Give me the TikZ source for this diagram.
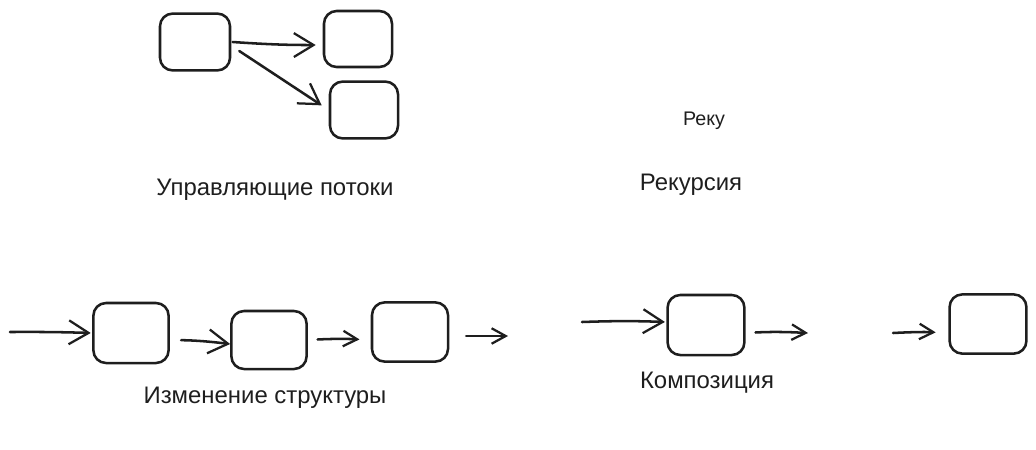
\documentclass[tikz,border=0pt]{standalone}
\usepackage{fontspec}
\setmainfont{Liberation Sans}
\usetikzlibrary{arrows.meta,positioning}
\definecolor{ink}{HTML}{1E1E1E}

\begin{document}
\begin{tikzpicture}[
    x=0.025cm, y=-0.025cm,
    every node/.style={font=\fontsize{17}{20}\selectfont, text=ink},
    box/.style={rectangle, draw=ink, line width=1.8pt, rounded corners=9pt,
                minimum width=#1, minimum height=1.45cm, inner sep=0pt},
    box/.default=1.85cm,
    arr/.style={-{Straight Barb[length=14pt, width=17pt, line width=1.6pt]},
                line width=1.8pt, draw=ink, line cap=round},
    shortarr/.style={arr, -{Straight Barb[length=10pt, width=11pt, line width=1.6pt]}},
    caption/.style={anchor=center},
    small/.style={font=\fontsize{14}{16}\selectfont},
]
\useasboundingbox (0,0) rectangle (1036,449);

% --- Control flow (top left) ----------------------------------------
\node[box=1.75cm, minimum height=1.42cm] (src)   at (195, 42)  {};
\node[box=1.70cm, minimum height=1.40cm] (dstA)  at (358, 39)  {};
\node[box=1.70cm, minimum height=1.42cm] (dstB)  at (364,110)  {};
\draw[arr, shorten >=5pt] ([xshift=1pt]src.east) to[bend right=2] ([yshift=-0.15cm]dstA.west);
\draw[arr, shorten >=6pt] ([shift={(8,9)}]src.east) -- (dstB.west);
\node[caption] (flowlbl) at (275,190) {Управляющие потоки};

% --- Recursion labels ------------------------------------------------
\node[caption, small] (recshort) at (704,121) {Реку};
\node[caption] (reclbl)  at (691,185) {Рекурсия};

% --- Chain of boxes (bottom left) ------------------------------------
\coordinate (inD) at (10,332);
\node[box=1.88cm, minimum height=1.50cm] (stepD) at (131,333) {};
\node[box=1.88cm, minimum height=1.45cm] (stepE) at (269,340) {};
\node[box=1.90cm, minimum height=1.48cm] (stepF) at (410,332) {};
\coordinate (outF) at (508,336);
\draw[arr, shorten >=1pt] (inD) to[bend left=1] (stepD.west);
\draw[arr, shorten <=8pt] ([yshift=-0.175cm]stepD.east) to[bend left=3] ([yshift=-0.1cm]stepE.west);
\draw[shortarr, shorten <=7pt, shorten >=8pt] (stepE.east) to[bend left=3] (stepE.east -| stepF.west);
\draw[shortarr, shorten <=12pt] (stepF.east |- outF) -- (outF);
\node[caption] (chainlbl) at (265,398) {Изменение структуры};

% --- Composition (bottom right) --------------------------------------
\coordinate (inG) at (582,322);
\node[box=1.92cm, minimum height=1.50cm] (compG) at (706,325) {};
\coordinate (outG) at (808,333);
\coordinate (inH) at (893,333);
\node[box=1.92cm, minimum height=1.48cm] (compH) at (988,324) {};
\draw[arr, shorten >=1pt] (inG) to[bend left=2] (inG -| compG.west);
\draw[shortarr, shorten <=7pt] (compG.east |- outG) to[bend left=3] (outG);
\draw[shortarr, shorten >=9pt] (inH) to[bend left=3] (inH -| compH.west);
\node[caption] (complbl) at (707,383) {Композиция};
\end{tikzpicture}
\end{document}
